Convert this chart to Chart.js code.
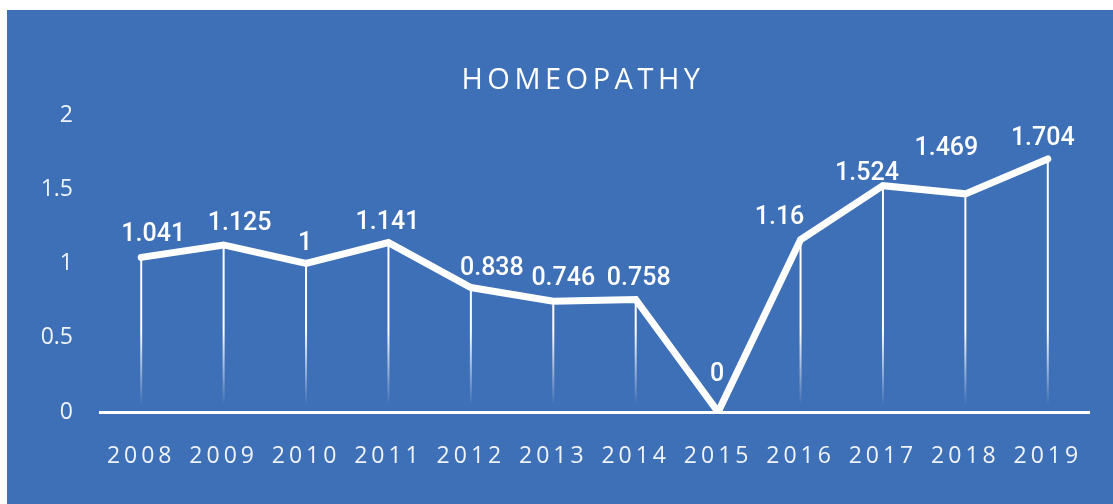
<!DOCTYPE html>
<html>
<head>
<meta charset="utf-8">
<title>Homeopathy</title>
<script src="https://cdn.jsdelivr.net/npm/chart.js@4.4.1/dist/chart.umd.min.js"></script>
<style>
    html, body { margin: 0; padding: 0; background: #fff; }
    #chart-container {
        position: absolute;
        left: 7px;
        top: 10px;
        width: 1106px;
        height: 494px;
        background: #3e70b8;
    }
    #chart-title {
        position: absolute;
        left: 46px;
        right: 0;
        top: 48px;
        text-align: center;
        font-family: 'Open Sans', sans-serif;
        font-size: 29px;
        line-height: 40px;
        letter-spacing: 4.5px;
        color: #fff;
    }
</style>
</head>
<body>
<div id="chart-container">
    <div id="chart-title">HOMEOPATHY</div>
    <canvas id="homeoChart"></canvas>
</div>
<script>
// Chart data
const years = ['2008', '2009', '2010', '2011', '2012', '2013', '2014', '2015', '2016', '2017', '2018', '2019'];
const values = [1.041, 1.125, 1, 1.141, 0.838, 0.746, 0.758, 0, 1.16, 1.524, 1.469, 1.704];
const yTicks = [0, 0.5, 1, 1.5, 2];

const tickFont = { family: "'Open Sans', 'DejaVu Sans', sans-serif", size: 23, weight: 400 };

// The x labels are letter-spaced, the y labels are not.
// x ticks are drawn before the datasets (z 0), y ticks after (ticks.z 1),
// so the spacing is switched off in beforeDatasetsDraw.
const letterSpacing = {
    id: 'letterSpacing',
    beforeDraw(chart) { chart.ctx.letterSpacing = '4px'; },
    beforeDatasetsDraw(chart) { chart.ctx.letterSpacing = '0px'; },
    afterDraw(chart) { chart.ctx.letterSpacing = '0px'; }
};

// Vertical drop lines from each point to the axis, fading out near the bottom
const dropLines = {
    id: 'dropLines',
    beforeDatasetsDraw(chart) {
        const { ctx, scales: { x, y } } = chart;
        const grad = ctx.createLinearGradient(0, y.getPixelForValue(0.55), 0, y.getPixelForValue(0.05));
        grad.addColorStop(0, 'rgba(255,255,255,1)');
        grad.addColorStop(1, 'rgba(255,255,255,0)');
        ctx.save();
        ctx.strokeStyle = grad;
        ctx.lineWidth = 2;
        values.forEach((v, i) => {
            const px = x.getPixelForValue(i);
            ctx.beginPath();
            ctx.moveTo(px, y.getPixelForValue(v));
            ctx.lineTo(px, y.getPixelForValue(0));
            ctx.stroke();
        });
        ctx.restore();
    }
};

// Value labels, nudged like the hand placed labels of the original
const valueLabels = {
    id: 'valueLabels',
    afterDatasetsDraw(chart, args, opts) {
        const { ctx } = chart;
        const meta = chart.getDatasetMeta(0);
        ctx.save();
        ctx.font = '500 25px Roboto, "Liberation Sans", Arial, sans-serif';
        ctx.fillStyle = '#fff';
        ctx.textAlign = 'center';
        ctx.textBaseline = 'middle';
        meta.data.forEach((pt, i) => {
            const [dx, dy] = opts.nudge[i] || [0, -21];
            ctx.fillText(String(values[i]), pt.x + dx, pt.y + dy);
        });
        ctx.restore();
    }
};

const ctx = document.getElementById('homeoChart').getContext('2d');
new Chart(ctx, {
    type: 'line',
    data: {
        labels: years,
        datasets: [{
            label: 'Homeopathy',
            data: values,
            borderColor: '#fff',
            borderWidth: 7,
            borderCapStyle: 'round',
            borderJoinStyle: 'miter',
            pointRadius: 0,
            tension: 0
        }]
    },
    options: {
        responsive: true,
        maintainAspectRatio: false,
        animation: false,
        layout: { padding: { left: 0, right: 24, top: 105, bottom: 0 } },
        scales: {
            x: {
                offset: true,
                grid: { display: false, drawTicks: false },
                border: { display: true, color: '#fff', width: 3 },
                ticks: { color: 'rgba(255,255,255,0.92)', font: tickFont, padding: 31, maxRotation: 0 },
                afterFit: s => { s.height = 92; }
            },
            y: {
                min: 0,
                max: 2,
                afterBuildTicks: s => { s.ticks = yTicks.map(v => ({ value: v })); },
                grid: { display: false, drawTicks: false },
                border: { display: false },
                ticks: {
                    z: 1,
                    color: 'rgba(255,255,255,0.92)',
                    font: tickFont,
                    padding: 27,
                    callback: v => String(v)
                },
                afterFit: s => { s.width = 93; }
            }
        },
        plugins: {
            legend: { display: false },
            tooltip: { enabled: false },
            title: { display: false },
            valueLabels: {
                nudge: [[12, -23], [16, -21], [-1, -20], [-1, -20], [21, -19], [10, -22],
                        [3, -21], [-1, -37], [-21, -22], [-16, -12], [-19, -45], [-5, -20]]
            }
        }
    },
    plugins: [letterSpacing, dropLines, valueLabels]
});
</script>
</body>
</html>
